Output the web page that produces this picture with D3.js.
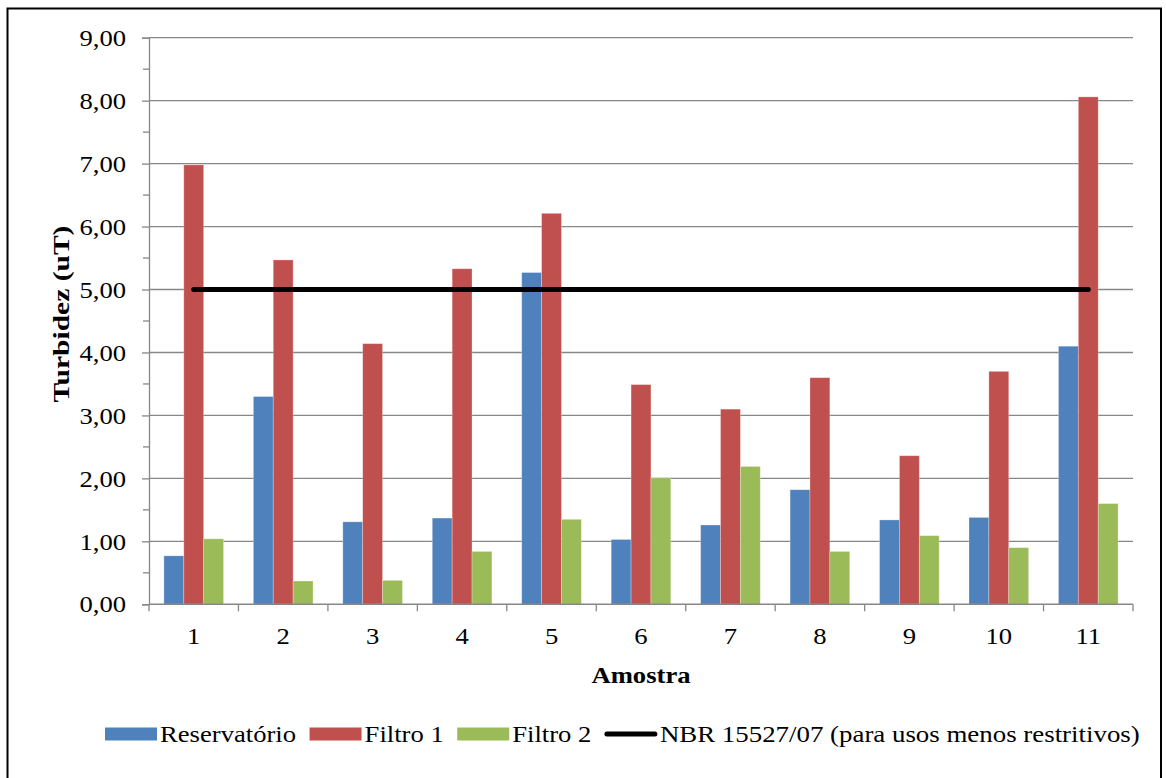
<!DOCTYPE html>
<html>
<head>
<meta charset="utf-8">
<script src="https://cdn.jsdelivr.net/npm/d3@7"></script>
<style>
  html, body { margin: 0; padding: 0; background: #fff; }
  svg { display: block; font-family: "Liberation Serif", "Times New Roman", serif; }
</style>
</head>
<body>
<svg id="chart" width="1166" height="778"></svg>
<script>
const categories = ["1","2","3","4","5","6","7","8","9","10","11"];
const seriesNames = ["Reservatório", "Filtro 1", "Filtro 2"];
const reservatorio = [0.77, 3.30, 1.31, 1.37, 5.27, 1.03, 1.26, 1.82, 1.34, 1.38, 4.10];
const filtro1      = [6.98, 5.47, 4.14, 5.33, 6.21, 3.49, 3.10, 3.60, 2.36, 3.70, 8.06];
const filtro2      = [1.04, 0.37, 0.38, 0.84, 1.35, 2.01, 2.19, 0.84, 1.09, 0.90, 1.60];
const nbrName = "NBR 15527/07 (para usos menos restritivos)";
const nbr          = [5, 5, 5, 5, 5, 5, 5, 5, 5, 5, 5];
const yTicks = [0, 1, 2, 3, 4, 5, 6, 7, 8, 9];
const yMinorTicks = [0.5, 1.5, 2.5, 3.5, 4.5, 5.5, 6.5, 7.5, 8.5];
const colors = ["#4F81BD", "#C0504D", "#9BBB59"];
const seriesValues = [reservatorio, filtro1, filtro2];

(function () {
const svg = d3.select("#chart");
const SX = 1.11; // horizontal text stretch of the original rendering

// outer frame
svg.append("rect").attr("x", 7.5).attr("y", 8.5).attr("width", 1153.5).attr("height", 775)
  .attr("fill", "none").attr("stroke", "#000").attr("stroke-width", 2);

const pLeft = 149, pRight = 1133, pTop = 37.7, pBottom = 604.3;
const x = d3.scaleBand().domain(categories).range([pLeft, pRight]).padding(0);
const xs = d3.scaleBand().domain(seriesNames).range([0, x.bandwidth()]).paddingInner(0).paddingOuter(0.75);
const y = d3.scaleLinear().domain([0, 9]).range([pBottom, pTop]);
const gridColor = "#878787";

// gridlines
svg.append("g").selectAll("line").data(yTicks.filter(d => d > 0)).join("line")
  .attr("x1", pLeft).attr("x2", pRight)
  .attr("y1", d => y(d)).attr("y2", d => y(d))
  .attr("stroke", gridColor).attr("stroke-width", 1.3);

// bars
const rows = [];
categories.forEach((c, i) => seriesNames.forEach((s, j) => rows.push({c, s, v: seriesValues[j][i], color: colors[j]})));
svg.append("g").selectAll("rect").data(rows).join("rect")
  .attr("x", d => x(d.c) + xs(d.s))
  .attr("width", xs.bandwidth())
  .attr("y", d => y(d.v))
  .attr("height", d => y(0) - y(d.v))
  .attr("fill", d => d.color)
  .attr("stroke", "rgba(255,255,255,0.35)").attr("stroke-width", 0.8);

// y axis
const yAxis = d3.axisLeft(y).tickValues(yTicks).tickSize(7).tickPadding(16)
  .tickFormat(d => d3.format(".2f")(d).replace(".", ","));
const gy = svg.append("g").attr("transform", `translate(${pLeft},0)`).call(yAxis);
gy.select(".domain").attr("stroke", gridColor).attr("stroke-width", 1.3);
gy.selectAll(".tick line").attr("stroke", gridColor).attr("stroke-width", 1.3);
gy.selectAll(".tick text").attr("font-size", 24).attr("fill", "#000")
  .attr("font-family", "Liberation Serif")
  .attr("transform", `scale(${SX},1)`).attr("x", -23 / SX);
// minor ticks
svg.append("g").selectAll("line").data(yMinorTicks).join("line")
  .attr("x1", pLeft - 6).attr("x2", pLeft)
  .attr("y1", d => y(d)).attr("y2", d => y(d))
  .attr("stroke", gridColor).attr("stroke-width", 1.3);

// x axis
const gx = svg.append("g").attr("transform", `translate(0,${pBottom})`)
  .call(d3.axisBottom(x).tickSize(0).tickPadding(0));
gx.select(".domain").remove();
gx.selectAll(".tick text").attr("font-size", 24).attr("fill", "#000").attr("font-family", "Liberation Serif")
  .attr("dy", null).attr("y", 40).attr("transform", `scale(${SX},1)`);
svg.append("line").attr("x1", pLeft).attr("x2", pRight).attr("y1", pBottom).attr("y2", pBottom)
  .attr("stroke", gridColor).attr("stroke-width", 1.5);
const boundaries = categories.map(c => x(c)).concat([pRight]);
svg.append("g").selectAll("line").data(boundaries).join("line")
  .attr("x1", d => d).attr("x2", d => d).attr("y1", pBottom).attr("y2", pBottom + 7)
  .attr("stroke", gridColor).attr("stroke-width", 1.3);

// NBR line
const line = d3.line().x((d, i) => x(categories[i]) + x.bandwidth() / 2).y(d => y(d));
svg.append("path").datum(nbr).attr("d", line)
  .attr("fill", "none").attr("stroke", "#000").attr("stroke-width", 5).attr("stroke-linecap", "round");

// axis titles
svg.append("text").attr("transform", `translate(641,683) scale(${SX},1)`)
  .attr("text-anchor", "middle").attr("font-weight", "bold").attr("font-size", 24).text("Amostra");
svg.append("text").attr("transform", `translate(69,314) rotate(-90) scale(1.23,1)`)
  .attr("text-anchor", "middle").attr("font-weight", "bold").attr("font-size", 24).text("Turbidez (uT)");

// legend
const legendItems = seriesNames.map((s, i) => ({name: s, color: colors[i], type: "rect"}))
  .concat([{name: nbrName, color: "#000", type: "line"}]);
let lx = 105;
const ly = 734;
legendItems.forEach(item => {
  if (item.type === "rect") {
    svg.append("rect").attr("x", lx).attr("y", ly - 6.5).attr("width", 52).attr("height", 13).attr("fill", item.color);
  } else {
    svg.append("line").attr("x1", lx + 2).attr("x2", lx + 50).attr("y1", ly).attr("y2", ly)
      .attr("stroke", "#000").attr("stroke-width", 5).attr("stroke-linecap", "round");
  }
  const tx = lx + 55;
  const sx = item.type === "line" ? 1.12 : SX;
  const t = svg.append("text").attr("transform", `translate(${tx},742) scale(${sx},1)`)
    .attr("font-size", 24).attr("fill", "#000").text(item.name);
  const w = t.node().getComputedTextLength() * sx;
  lx = tx + w + 13.5;
});
})();
</script>
</body>
</html>
